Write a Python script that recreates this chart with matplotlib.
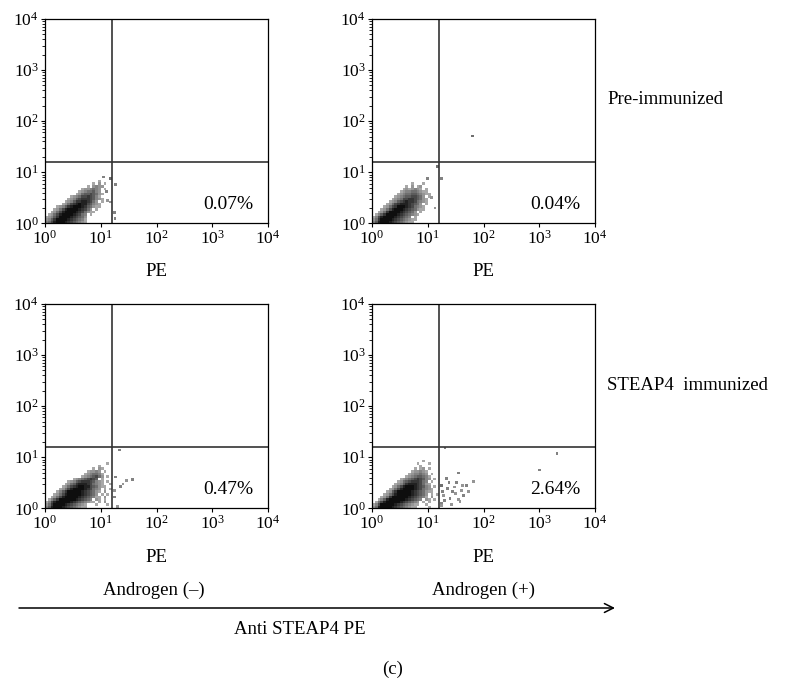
import numpy as np
import matplotlib
matplotlib.use('Agg')
import matplotlib.pyplot as plt
from matplotlib.colors import LinearSegmentedColormap

plt.rcParams['font.family'] = ['Liberation Serif', 'DejaVu Serif']
plt.rcParams['mathtext.fontset'] = 'custom'
plt.rcParams['mathtext.rm'] = 'Liberation Serif'
plt.rcParams['mathtext.it'] = 'Liberation Serif:italic'

# density of events: each char is one 0.05-decade cell,
# top row first, '.' = no events, 1..9 = light..dark
grid1 = [
    "...................1..",
    ".................1.2.1",
    "...............1.2322.",
    ".............1223432.1",
    "............12344532..",
    "...........1245565421.",
    ".........12346676531..",
    "........1235677765321.",
    ".......123577887642.1.",
    "......12467898865321..",
    "....1235789998754211..",
    "...12468999987642.1...",
    "..1246899998764211....",
    ".12468999987643.1.....",
    "123579999876542.......",
    "235799998765431.......",
    "346899987654321.......",
]
grid2 = [
    "......................",
    "..............1...1...",
    "............1.2.12....",
    "...........1212321.1..",
    "..........1233443211..",
    ".........123445543211.",
    "........12345566542.1.",
    ".......1234667765421..",
    "......12356787764321..",
    ".....1246788876542.1..",
    "....124679998764321...",
    "...1246899987654211...",
    "..12479999876542.1....",
    ".1357999987654321.....",
    "13689999876543.1......",
    "2479999876543211......",
    "358999876543211.......",
]
grid3 = [
    "......................1.",
    "...................1....",
    ".................1.21...",
    "...............12232.1..",
    "..............1234431...",
    ".............12345642.1.",
    "..........123456765.1...",
    "........1235677765321.1.",
    ".......12457888764321..1",
    "......1246789988654211..",
    ".....124689999876432.1.1",
    "....1357999998765421.2..",
    "...1246899999876542.1.1.",
    "..124689999987654311.2..",
    ".1357999999876543.21.1..",
    "136899999876543211.1.2..",
    "247999987654321...1...1.",
    "358999876543211.........",
]
grid4 = [
    "..................1.....",
    "................1...1...",
    ".................1......",
    "...............1.12.1...",
    "..............122321....",
    ".............1233432.1..",
    "............123455431...",
    "..........12345676532.1.",
    ".........12456777643.1..",
    "........1235788876421...",
    ".......12468999876532.1.",
    "......1246899998764321..",
    ".....12579999987654211..",
    "....1246899999876542.1.1",
    "...12479999998765431.2..",
    "..1358999999876543.21.1.",
    ".1468999998765432.1.1...",
    "13699999876543211..1....",
    "2489999876543211....1...",
]

# single events outside the main cloud (PE, y value, shade)
out1_x = [11.1, 15.0, 18.6, 12.6, 15.0, 17.8, 13.2, 18.0]
out1_y = [8.1, 7.6, 5.8, 4.2, 2.6, 1.6, 2.8, 1.26]
out1_s = [3, 4, 3, 3, 2, 3, 2, 3]
out2_x = [63, 17.8, 10.0, 11.7, 15.2, 13.5]
out2_y = [51, 7.6, 7.6, 3.2, 13.0, 2.0]
out2_s = [4, 3, 3, 2, 4, 2]
out3_x = [21.4, 18.6, 37, 28.8, 22.9, 17.8, 17.8, 20, 25]
out3_y = [13.8, 4.1, 3.7, 3.5, 2.7, 2.2, 1.66, 1.1, 3.0]
out3_s = [3, 3, 3, 2, 3, 2, 3, 2, 2]
out4_x = [20.4, 21.9, 35.5, 66, 50, 40, 28.2, 22.4, 19, 25.1, 31.6, 43.6, 53.7,
          17.5, 38, 1000, 2090, 17.8, 24, 30, 20, 26.3, 33, 18.6, 41.7, 17.8, 35.5]
out4_y = [15.1, 3.9, 4.9, 3.3, 2.8, 2.24, 2.1, 2.45, 1.8, 1.58, 1.95, 1.8, 2.1,
          1.26, 1.35, 5.6, 12, 2.8, 3.16, 2.6, 1.4, 1.2, 3.16, 2.1, 2.8, 1.12, 1.5]
out4_s = [3, 3, 3, 2, 3, 2, 3, 3, 2, 3, 2, 3, 2,
          3, 2, 3, 3, 4, 3, 2, 3, 2, 3, 3, 2, 2, 2]

percents = ["0.07%", "0.04%", "0.47%", "2.64%"]
gate_x = 16.2
gate_y = 15.8
CELL = 0.05

grids = [grid1, grid2, grid3, grid4]
outs = [(out1_x, out1_y, out1_s), (out2_x, out2_y, out2_s),
        (out3_x, out3_y, out3_s), (out4_x, out4_y, out4_s)]

W, H = 787, 680
fig = plt.figure(figsize=(W/100, H/100), dpi=100)
cmap = LinearSegmentedColormap.from_list('fc', ['#a8a8a8', '#5c5c5c', '#0e0e0e'])

# axes boxes in pixels: left, top
boxes = [(45, 19), (372, 19), (45, 304), (372, 304)]
aw, ah = 223, 204.3

for i in range(4):
    l, t = boxes[i]
    ax = fig.add_axes([l/W, 1 - (t + ah)/H, aw/W, ah/H])
    g = np.array([[0 if c == '.' else int(c) for c in row] for row in grids[i][::-1]])
    ny, nx = g.shape
    xe = 10 ** (np.arange(nx + 1) * CELL)
    ye = 10 ** (np.arange(ny + 1) * CELL)
    ax.pcolormesh(xe, ye, np.ma.masked_equal(g, 0), cmap=cmap, vmin=1, vmax=9)
    ox, oy, os_ = outs[i]
    ax.scatter(ox, oy, c=os_, cmap=cmap, vmin=1, vmax=9, marker='s', s=4, linewidths=0)
    ax.axvline(gate_x, color='#333333', lw=1.2)
    ax.axhline(gate_y, color='#333333', lw=1.2)
    ax.set_xscale('log')
    ax.set_yscale('log')
    ax.set_xlim(1, 1e4)
    ax.set_ylim(1, 1e4)
    ax.set_xticks([1, 10, 100, 1000, 10000])
    ax.set_yticks([1, 10, 100, 1000, 10000])
    ax.tick_params(which='major', direction='out', length=3, width=0.8, labelsize=12.5, pad=1.5)
    ax.tick_params(which='minor', direction='out', length=2, width=0.6)
    for s in ax.spines.values():
        s.set_linewidth(0.9)
    ax.text(0.935, 0.09, percents[i], transform=ax.transAxes, ha='right', va='center',
            fontsize=14)

ov = fig.add_axes([0, 0, 1, 1])
ov.set_xlim(0, W)
ov.set_ylim(H, 0)
ov.axis('off')
ov.patch.set_alpha(0)

fs = 13.5
ov.text(156.5, 271, "PE", ha='center', va='center', fontsize=fs)
ov.text(483.5, 271, "PE", ha='center', va='center', fontsize=fs)
ov.text(156.5, 557, "PE", ha='center', va='center', fontsize=fs)
ov.text(483.5, 557, "PE", ha='center', va='center', fontsize=fs)
ov.text(607, 100, "Pre-immunized", ha='left', va='center', fontsize=fs)
ov.text(607, 385, "STEAP4  immunized", ha='left', va='center', fontsize=fs)
ov.text(154, 590, "Androgen (–)", ha='center', va='center', fontsize=fs)
ov.text(483, 590, "Androgen (+)", ha='center', va='center', fontsize=fs)
ov.annotate('', xy=(615, 608), xytext=(19, 608),
            arrowprops=dict(arrowstyle='->', lw=1.1, color='black', mutation_scale=16,
                            shrinkA=0, shrinkB=0))
ov.text(300, 630, "Anti STEAP4 PE", ha='center', va='center', fontsize=fs)
ov.text(393, 669, "(c)", ha='center', va='center', fontsize=fs)

plt.savefig('out.png', dpi=100)
